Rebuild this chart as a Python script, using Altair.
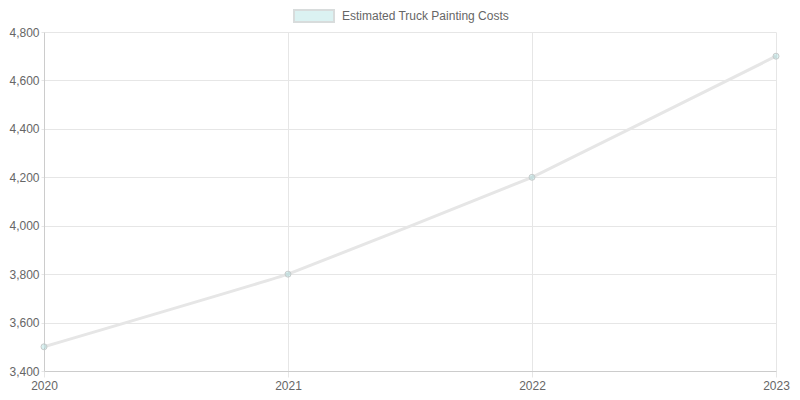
import altair as alt
import pandas as pd

years = ["2020", "2021", "2022", "2023"]
costs = [3500, 3800, 4200, 4700]
series_name = "Estimated Truck Painting Costs"
y_ticks = [3400, 3600, 3800, 4000, 4200, 4400, 4600, 4800]

df = pd.DataFrame({"year": years, "cost": costs, "series": [series_name] * len(years)})

x = alt.X("year:O", scale=alt.Scale(type="point", padding=0),
          axis=alt.Axis(title=None, labelAngle=0, grid=True, gridColor="#e6e6e6",
                        domainColor="#cccccc", tickColor="#e6e6e6", tickSize=6,
                        labelColor="#666666", labelFontSize=12, labelPadding=3,
                        labelFont="Liberation Sans"))
y = alt.Y("cost:Q", scale=alt.Scale(domain=[3400, 4800], nice=False),
          axis=alt.Axis(title=None, values=y_ticks,
                        labelExpr="format(datum.value, ',d')",
                        grid=True, gridColor="#e6e6e6", domainColor="#cccccc",
                        tickColor="#e6e6e6", tickSize=3, labelColor="#666666",
                        labelFontSize=12, labelPadding=2, labelFont="Liberation Sans",
                        labelLimit=100))

line = alt.Chart(df).mark_line(interpolate="cardinal", tension=0.8, color="#e6e6e6",
                               strokeWidth=3).encode(x=x, y=y)

points = alt.Chart(df).mark_point(filled=True, size=36, stroke="#c8cccc", strokeWidth=1, opacity=1).encode(
    x=x, y=y,
    fill=alt.Fill("series:N", scale=alt.Scale(range=["rgba(75,192,192,0.2)"]),
                  legend=alt.Legend(title=None, orient="none", legendX=249, legendY=-37,
                                    direction="horizontal",
                                    symbolType="M-1,-0.3H1V0.3H-1Z", symbolSize=1600,
                                    symbolStrokeColor="#d8dcdc", symbolStrokeWidth=2,
                                    symbolOpacity=1, labelLimit=400,
                                    labelColor="#666666", labelFontSize=12,
                                    labelFont="Liberation Sans", labelOffset=7)),
)

chart = (line + points).properties(
    width=732, height=339,
    autosize=alt.AutoSizeParams(type="none"),
    padding={"left": 36, "top": 24, "right": 16, "bottom": 21},
).configure_view(stroke=None)

chart.save("out.html", embed_options={"renderer": "svg", "actions": False})
